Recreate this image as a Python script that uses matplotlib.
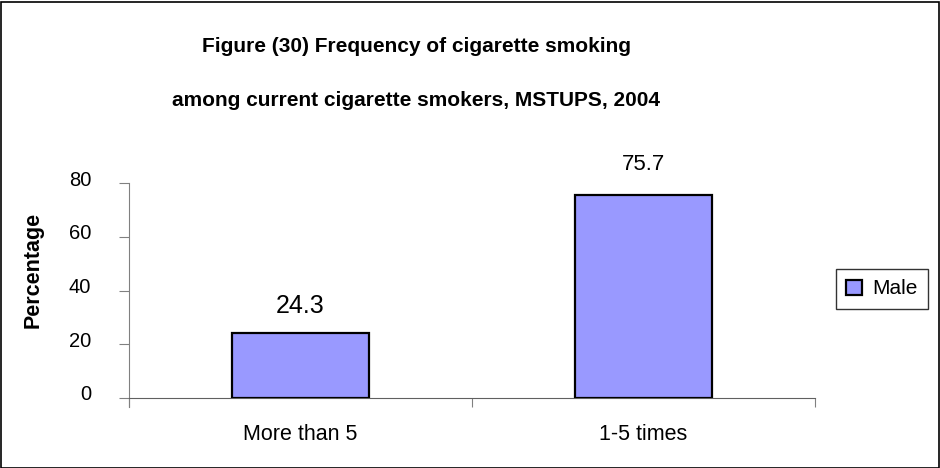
import matplotlib
matplotlib.use("Agg")
import matplotlib.pyplot as plt
import matplotlib.transforms as mtrans
from matplotlib.patches import Rectangle

categories = ["More than 5", "1-5 times"]
male = [24.3, 75.7]
yticks = [0, 20, 40, 60, 80]
title_lines = ["Figure (30) Frequency of cigarette smoking",
               "among current cigarette smokers, MSTUPS, 2004"]

plt.rcParams['font.family'] = ['Liberation Sans', 'DejaVu Sans']

W, H = 940, 468
fig = plt.figure(figsize=(W / 100, H / 100), dpi=100)

# outer frame
fig.patches.append(Rectangle((0.5 / W, 0.5 / H), (W - 2) / W, (H - 2) / H,
                             transform=fig.transFigure, fill=False,
                             edgecolor='black', linewidth=1.2))

ax_l, ax_r, ax_t, ax_b = 129, 815, 183, 398
ax = fig.add_axes([ax_l / W, 1 - ax_b / H, (ax_r - ax_l) / W, (ax_b - ax_t) / H])
ppu = (ax_b - ax_t) / 80.0  # pixels per data unit

x = [1, 2]
bars = ax.bar(x, male, width=0.4, color='#9999FF', edgecolor='black',
              linewidth=1.6, label='Male', zorder=3)
ax.set_xlim(0.5, 2.5)
ax.set_ylim(0, 80)

for s in ['top', 'right']:
    ax.spines[s].set_visible(False)
ax.spines['left'].set_color('#808080')
ax.spines['bottom'].set_color('#606060')
ax.spines['left'].set_bounds(-9 / ppu, 80)

ax.set_yticks(yticks)
ax.set_yticklabels([str(v) for v in yticks], fontsize=14.5)
ax.tick_params(axis='y', direction='out', length=7.2, color='#808080', pad=20)
off = mtrans.ScaledTranslation(0, 5 / 100, fig.dpi_scale_trans)
for lab in ax.get_yticklabels():
    lab.set_transform(lab.get_transform() + off)

ax.set_xticks([0.5, 1.5, 2.5])
ax.set_xticklabels([])
ax.tick_params(axis='x', direction='out', length=6.5, color='#808080')
for xi, c in zip(x, categories):
    ax.text(xi, -42 / ppu, c, ha='center', va='baseline', fontsize=15.5)

ax.text(1, (398 - 313) / ppu, f"{male[0]}", ha='center', va='baseline', fontsize=18)
ax.text(2, (398 - 170) / ppu, f"{male[1]}", ha='center', va='baseline',
        fontsize=16, clip_on=False)

fig.text(33 / W, 1 - 270 / H, "Percentage", rotation=90, ha='center',
         va='center', fontsize=15.5, fontweight='bold')

fig.text(416 / W, 1 - 46 / H, title_lines[0], ha='center', va='center',
         fontsize=15, fontweight='bold')
fig.text(416 / W, 1 - 100 / H, title_lines[1], ha='center', va='center',
         fontsize=15, fontweight='bold')

leg = fig.legend(handles=[bars], labels=['Male'], loc='center',
                 bbox_to_anchor=(882 / W, 1 - 289 / H), fontsize=15,
                 frameon=True, fancybox=False, edgecolor='black',
                 handlelength=0.75, handleheight=0.75, handletextpad=0.5,
                 borderpad=0.5, borderaxespad=0)
leg.get_frame().set_linewidth(1.0)

fig.savefig("out.png", dpi=100)
